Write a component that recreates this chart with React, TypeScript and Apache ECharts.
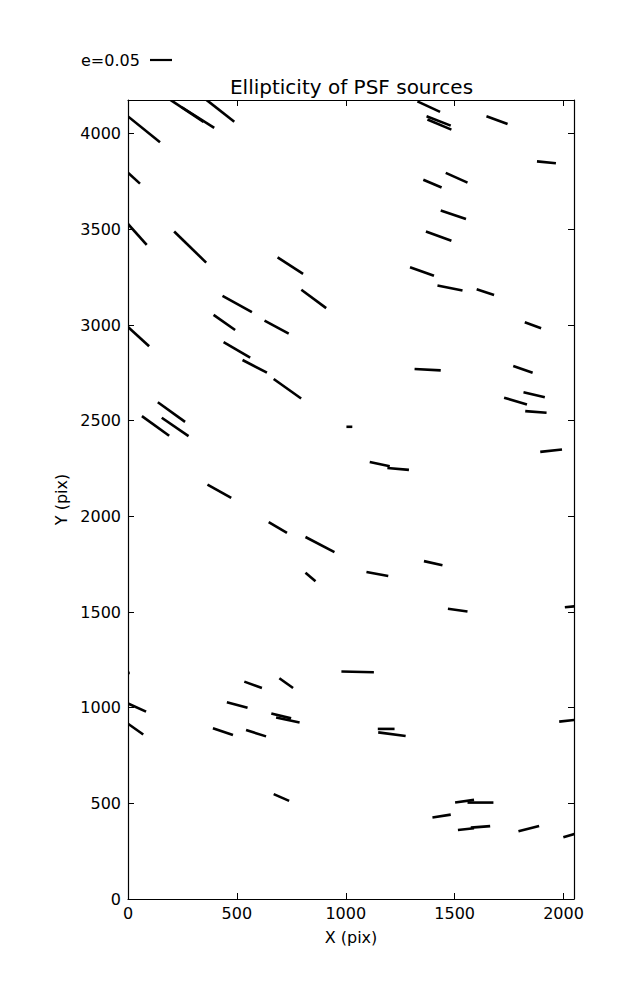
import React, { useEffect, useRef } from "react";
import * as echarts from "echarts";

// Axis extents and tick labels (detector pixels)
const xTicks = [0, 500, 1000, 1500, 2000];
const yTicks = [0, 500, 1000, 1500, 2000, 2500, 3000, 3500, 4000];
const xMax = 2048;
const yMax = 4176;
const keyLabel = "e=0.05";

// Whisker segments: [xStart, yStart, xEnd, yEnd] in pixel coordinates
const whiskersUpperLeft: number[][] = [
  [193, 4178, 347, 4062],
  [247, 4138, 396, 4030],
  [359, 4178, 488, 4062],
  [0, 4090, 147, 3955],
  [0, 3796, 55, 3739],
  [0, 3528, 86, 3419],
  [212, 3489, 359, 3326],
  [687, 3353, 804, 3267],
  [796, 3184, 910, 3088],
  [434, 3152, 569, 3067],
  [393, 3053, 492, 2974],
  [627, 3023, 738, 2955],
  [0, 2990, 97, 2889],
  [439, 2910, 561, 2829],
  [526, 2817, 638, 2751],
  [669, 2718, 795, 2616],
  [137, 2596, 262, 2494],
  [64, 2524, 189, 2421],
  [155, 2515, 278, 2419],
  [365, 2166, 474, 2096],
  [646, 1970, 730, 1913],
  [815, 1892, 948, 1813],
  [815, 1705, 861, 1661],
];

const whiskersUpperRight: number[][] = [
  [1329, 4169, 1433, 4114],
  [1371, 4091, 1482, 4042],
  [1375, 4074, 1485, 4021],
  [1646, 4091, 1743, 4051],
  [1878, 3855, 1965, 3845],
  [1459, 3795, 1559, 3744],
  [1356, 3759, 1440, 3719],
  [1436, 3599, 1552, 3554],
  [1368, 3489, 1485, 3440],
  [1295, 3302, 1405, 3257],
  [1421, 3206, 1536, 3180],
  [1601, 3187, 1681, 3157],
  [1822, 3014, 1897, 2983],
  [1316, 2770, 1436, 2763],
  [1769, 2786, 1858, 2751],
  [1816, 2648, 1914, 2622],
  [1727, 2620, 1832, 2585],
  [1824, 2550, 1922, 2541],
  [1003, 2468, 1030, 2468],
  [1893, 2337, 1993, 2349],
  [1110, 2284, 1202, 2262],
  [1191, 2253, 1290, 2243],
  [1359, 1766, 1444, 1744],
  [1095, 1709, 1195, 1688],
  [1469, 1517, 1559, 1503],
  [2006, 1525, 2070, 1532],
];

const whiskersLower: number[][] = [
  [980, 1189, 1129, 1185],
  [1147, 889, 1224, 889],
  [1149, 871, 1275, 852],
  [1980, 927, 2070, 938],
  [1502, 504, 1589, 518],
  [1559, 504, 1678, 504],
  [1398, 426, 1482, 441],
  [1515, 361, 1589, 370],
  [1574, 373, 1663, 381],
  [1793, 354, 1888, 382],
  [1999, 323, 2070, 347],
  [-20, 1180, 8, 1182],
  [534, 1136, 615, 1103],
  [695, 1154, 758, 1103],
  [0, 1022, 83, 979],
  [454, 1028, 549, 999],
  [658, 970, 749, 944],
  [680, 949, 788, 923],
  [0, 916, 70, 860],
  [390, 892, 482, 857],
  [542, 883, 634, 850],
  [669, 548, 740, 513],
];

const FONT = "DejaVu Sans";

export default function App() {
  const ref = useRef<HTMLDivElement>(null);

  useEffect(() => {
    if (!ref.current) return;
    const chart = echarts.init(ref.current, null, { renderer: "svg" });

    const labelFmt = (allowed: number[]) => (v: number) =>
      allowed.indexOf(v) >= 0 ? String(v) : "";

    const axisCommon = {
      type: "value" as const,
      splitLine: { show: false },
      axisLine: { show: true, onZero: false, lineStyle: { color: "#000", width: 1.2 } },
      axisTick: { show: true, inside: true, length: 6, lineStyle: { color: "#000", width: 1 } },
    };

    const data = [...whiskersUpperLeft, ...whiskersUpperRight, ...whiskersLower];

    chart.setOption({
      animation: false,
      backgroundColor: "#fff",
      grid: { left: 128, right: 63, top: 100, bottom: 101, containLabel: false },
      xAxis: [
        {
          ...axisCommon,
          position: "bottom",
          min: 0,
          max: xMax,
          interval: 500,
          name: "X (pix)",
          nameLocation: "middle",
          nameGap: 30,
          nameTextStyle: { fontFamily: FONT, fontSize: 16, color: "#000" },
          axisLabel: {
            fontFamily: FONT,
            fontSize: 16,
            color: "#000",
            margin: 6,
            formatter: labelFmt(xTicks),
          },
        },
        {
          ...axisCommon,
          position: "top",
          min: 0,
          max: xMax,
          interval: 500,
          axisLabel: { show: false },
        },
      ],
      yAxis: [
        {
          ...axisCommon,
          position: "left",
          min: 0,
          max: yMax,
          interval: 500,
          name: "Y (pix)",
          nameLocation: "middle",
          nameGap: 55,
          nameTextStyle: { fontFamily: FONT, fontSize: 16, color: "#000" },
          axisLabel: {
            fontFamily: FONT,
            fontSize: 16,
            color: "#000",
            margin: 7,
            formatter: labelFmt(yTicks),
          },
        },
        {
          ...axisCommon,
          position: "right",
          min: 0,
          max: yMax,
          interval: 500,
          axisLabel: { show: false },
        },
      ],
      graphic: [
        {
          type: "text",
          x: 351.5,
          y: 87,
          style: {
            text: "Ellipticity of PSF sources",
            fontFamily: FONT,
            fontSize: 20,
            fill: "#000",
            align: "center",
            verticalAlign: "middle",
          },
        },
        {
          type: "text",
          x: 81,
          y: 60,
          style: {
            text: keyLabel,
            fontFamily: FONT,
            fontSize: 16,
            fill: "#000",
            align: "left",
            verticalAlign: "middle",
          },
        },
        {
          type: "line",
          shape: { x1: 150, y1: 60, x2: 172, y2: 60 },
          style: { stroke: "#000", lineWidth: 2.2 },
        },
      ],
      series: [
        {
          type: "custom",
          coordinateSystem: "cartesian2d",
          clip: true,
          dimensions: ["x1", "y1", "x2", "y2"],
          encode: { x: [0, 2], y: [1, 3] },
          data,
          renderItem: (params: any, api: any) => {
            const p1 = api.coord([api.value(0), api.value(1)]);
            const p2 = api.coord([api.value(2), api.value(3)]);
            return {
              type: "line",
              shape: { x1: p1[0], y1: p1[1], x2: p2[0], y2: p2[1] },
              style: { stroke: "#000", lineWidth: 2.6, lineCap: "butt" },
            };
          },
        },
      ],
    });

    return () => chart.dispose();
  }, []);

  return (
    <div
      ref={ref}
      style={{ position: "absolute", left: 0, top: 0, width: 637, height: 1000 }}
    />
  );
}
